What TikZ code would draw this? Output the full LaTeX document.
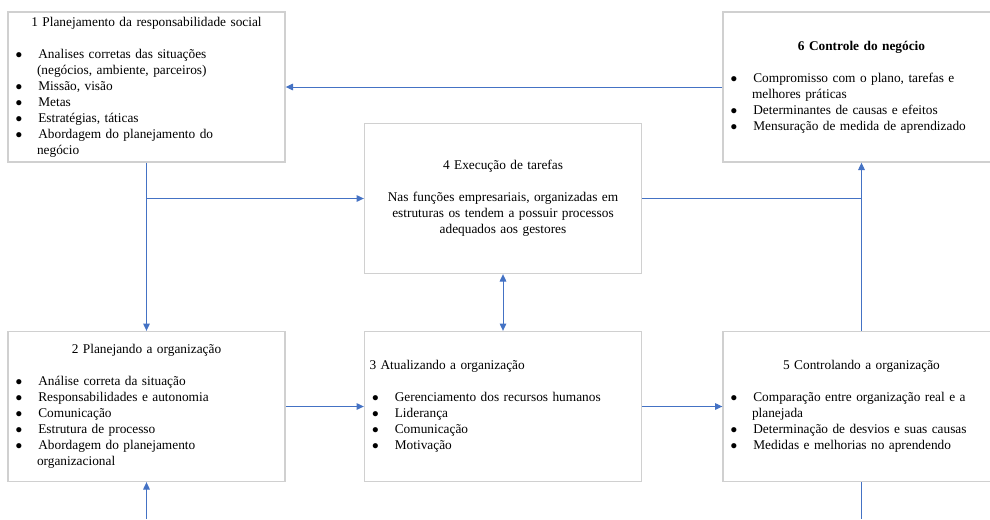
\documentclass[tikz,border=0pt]{standalone}
\usepackage{fontspec}
\setmainfont{Liberation Serif}
\usepackage{enumitem}
\usetikzlibrary{arrows.meta}
\definecolor{FlowColor}{RGB}{68,114,196}
\definecolor{FrameColor}{RGB}{208,208,208}
\setlist[itemize]{label=$\bullet$, leftmargin=18pt, labelwidth=4pt, labelsep=12pt, align=left, topsep=12pt, partopsep=0pt, itemsep=0pt, parsep=0pt}
\tikzstyle{box} = [draw=FrameColor, line width=1pt, fill=white, minimum width=207.75pt, minimum height=112.5pt, text width=200.25pt, inner xsep=3.75pt, inner ysep=0pt, align=left]
\tikzstyle{link} = [FlowColor, line width=0.75pt]
\tikzstyle{flow} = [link, -{Triangle[length=5.5pt,width=5pt]}]
\tikzstyle{twoway} = [link, {Triangle[length=5.5pt,width=5pt]}-{Triangle[length=5.5pt,width=5pt]}]

\begin{document}
\begin{tikzpicture}[x=0.75pt, y=-0.75pt]
  \useasboundingbox (0,0) rectangle (990,519);

  % Top row
  \node[box] (plan1) at (146.5,87) {%
    {\centering 1 Planejamento da responsabilidade social\par}
    \begin{itemize}
      \item Analises corretas das situações\newline (negócios, ambiente, parceiros)
      \item Missão, visão
      \item Metas
      \item Estratégias, táticas
      \item Abordagem do planejamento do\newline negócio
    \end{itemize}};
  \node[box, align=center] (exec4) at (503,198.5) {%
    4 Execução de tarefas\\[12pt]
    Nas funções empresariais, organizadas em\\
    estruturas os tendem a possuir processos\\
    adequados aos gestores};
  \node[box] (ctrl6) at (861.5,87) {%
    {\centering\textbf{6 Controle do negócio}\par}
    \begin{itemize}
      \item Compromisso com o plano, tarefas e\newline melhores práticas
      \item Determinantes de causas e efeitos
      \item Mensuração de medida de aprendizado
    \end{itemize}};

  % Bottom row
  \node[box] (plan2) at (146.5,406.5) {%
    {\centering 2 Planejando a organização\par}
    \begin{itemize}
      \item Análise correta da situação
      \item Responsabilidades e autonomia
      \item Comunicação
      \item Estrutura de processo
      \item Abordagem do planejamento\newline organizacional
    \end{itemize}};
  \node[box] (atual3) at (503,406.5) {%
    3 Atualizando a organização\par
    \begin{itemize}
      \item Gerenciamento dos recursos humanos
      \item Liderança
      \item Comunicação
      \item Motivação
    \end{itemize}};
  \node[box] (ctrl5) at (861.5,406.5) {%
    {\centering 5 Controlando a organização\par}
    \begin{itemize}
      \item Comparação entre organização real e a\newline planejada
      \item Determinação de desvios e suas causas
      \item Medidas e melhorias no aprendendo
    \end{itemize}};

  % Junctions and loose ends
  \coordinate (branch) at (plan1.south |- exec4.west);
  \coordinate (merge) at (ctrl6.south |- exec4.east);
  \coordinate (inlet) at (plan2.south |- 0,519);
  \coordinate (outlet) at (ctrl5.south |- 0,519);

  % Connectors
  \draw[flow] (ctrl6.west) -- (plan1.east);
  \draw[flow] (plan1.south) -- (plan2.north);
  \draw[flow] (branch) -- (exec4.west);
  \draw[link] (exec4.east) -- (merge);
  \draw[flow] (ctrl5.north) -- (ctrl6.south);
  \draw[twoway] (exec4.south) -- (atual3.north);
  \draw[flow] (plan2.east) -- (atual3.west);
  \draw[flow] (atual3.east) -- (ctrl5.west);
  \draw[flow] (inlet) -- (plan2.south);
  \draw[link] (ctrl5.south) -- (outlet);
\end{tikzpicture}
\end{document}
